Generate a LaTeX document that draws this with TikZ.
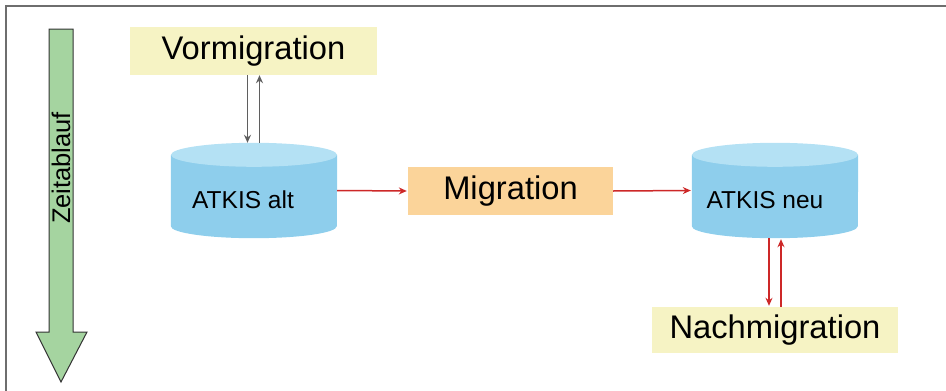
\documentclass[tikz,border=0pt]{standalone}
\usepackage{fontspec}
\setmainfont{Liberation Sans}
\usetikzlibrary{positioning,arrows.meta,calc}

\definecolor{framegray}{RGB}{110,110,110}
\definecolor{zeitgreen}{RGB}{165,212,160}
\definecolor{phaseyellow}{RGB}{246,243,196}
\definecolor{migorange}{RGB}{251,212,154}
\definecolor{dbbody}{RGB}{142,206,236}
\definecolor{dbtop}{RGB}{180,225,244}
\definecolor{flowred}{RGB}{205,40,40}
\definecolor{flowgray}{RGB}{95,95,95}

\begin{document}
\begin{tikzpicture}[
  x=1pt,y=-1pt,>={Stealth[length=8pt,width=7pt]},
  phasebox/.style={fill=phaseyellow,inner sep=0pt,font=\fontsize{32.7}{36}\selectfont},
  migbox/.style={fill=migorange,inner sep=0pt,minimum width=205pt,minimum height=48pt,
    font=\fontsize{32.7}{36}\selectfont},
  dbspace/.style={inner sep=0pt,minimum width=166pt,minimum height=95pt},
  dblabel/.style={font=\fontsize{24.5}{28}\selectfont},
  redflow/.style={->,flowred,line width=1.5pt,shorten >=1pt},
  grayflow/.style={->,flowgray,line width=1.5pt}
]
\useasboundingbox (0,0) rectangle (946,391);
% frame (only top and left edge are visible)
\draw[framegray,line width=1.5pt] (946,6) -- (6,6) -- (6,391);

% time arrow
\filldraw[fill=zeitgreen,draw=black!80,line width=1pt]
  (49,29) -- (73,29) -- (73,332) -- (87,332) -- (61,382) -- (36,332) -- (49,332) -- cycle;
\node[rotate=90,font=\fontsize{25.5}{28}\selectfont] (zeit) at (61,168) {Zeitablauf};

% phases
\node[phasebox,minimum width=247pt,minimum height=48pt] (vor) at (253.5,51) {Vormigration};
\node[dbspace] (alt) at (254,190.5) {};
\node[migbox] (mig) at (510.5,191) {Migration};
\node[dbspace] (neu) at (775,190.5) {};
\node[phasebox,minimum width=246pt,minimum height=46pt] (nach) at (775,330) {Nachmigration};

% database cylinders
\foreach \db in {alt,neu} {
  \fill[dbbody] ($(\db.north west)+(0,12)$) -- ($(\db.south west)+(0,-12)$)
    arc[start angle=180,end angle=0,x radius=83,y radius=12]
    -- ($(\db.north east)+(0,12)$) -- cycle;
  \fill[dbtop] ($(\db.north)+(0,12)$) ellipse[x radius=83,y radius=12];
}
\node[dblabel] (alttext) at (243,200) {ATKIS alt};
\node[dblabel] (neutext) at (765,200) {ATKIS neu};

% connectors
\draw[grayflow] ([xshift=-6pt]vor.south) -- ([xshift=-6pt]vor.south |- alt.north);
\draw[grayflow] ([xshift=6pt]vor.south |- alt.north) -- ([xshift=6pt]vor.south);
\draw[redflow] (alt.east) -- (mig.west);
\draw[redflow] (mig.east) -- (neu.west);
\draw[redflow] ([xshift=-6pt]neu.south) -- ([xshift=-6pt]neu.south |- nach.north);
\draw[redflow] ([xshift=6pt]neu.south |- nach.north) -- ([xshift=6pt]neu.south);
\end{tikzpicture}
\end{document}
